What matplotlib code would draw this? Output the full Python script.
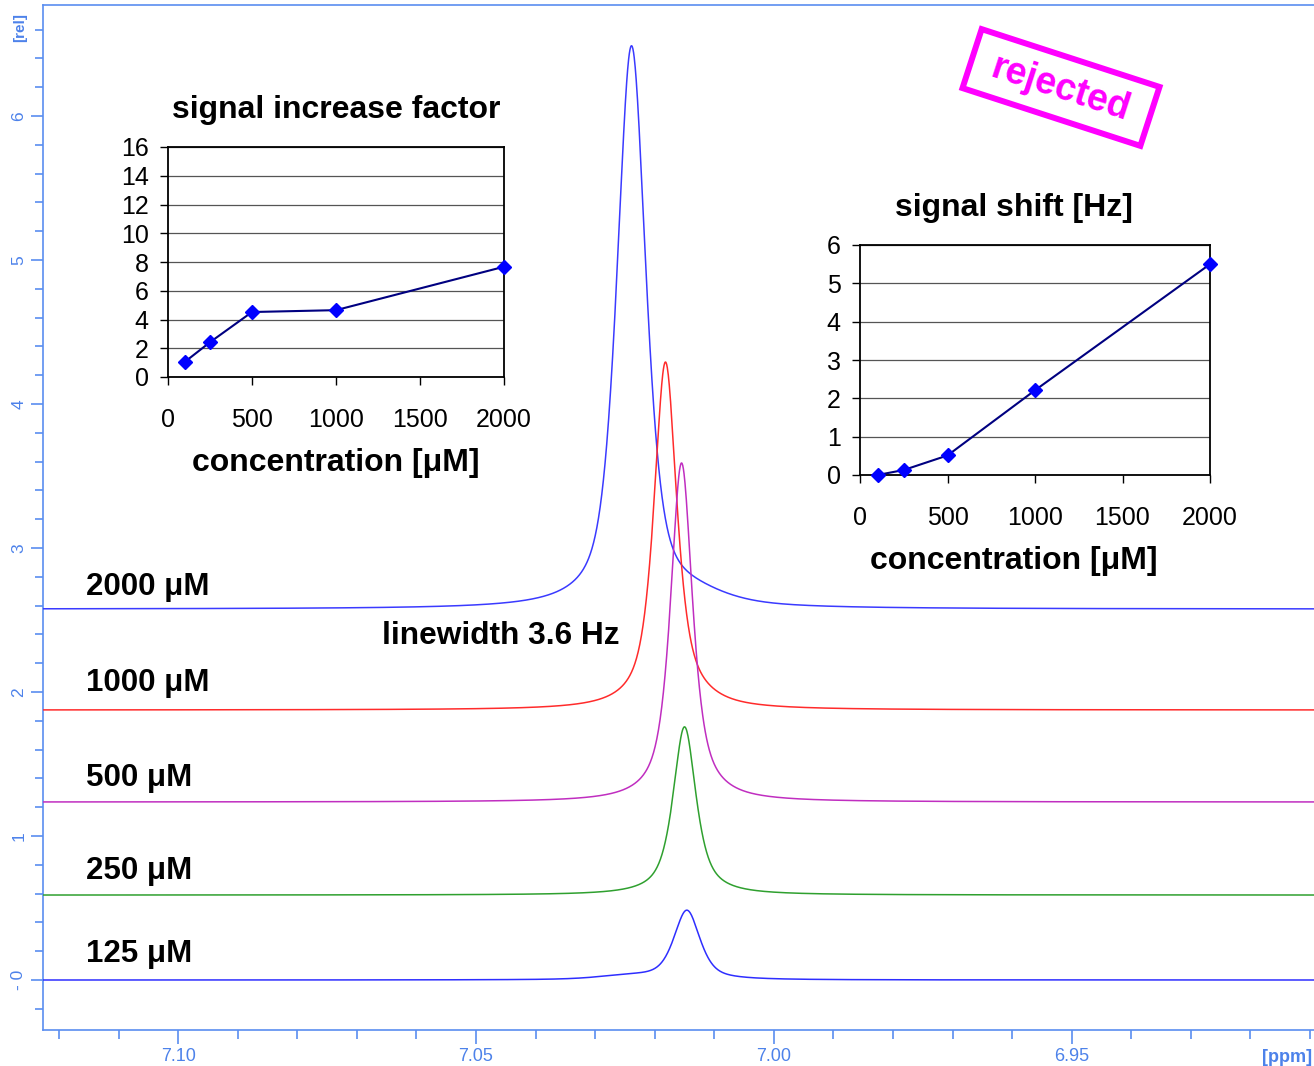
import numpy as np
import matplotlib
matplotlib.use("Agg")
import matplotlib.pyplot as plt
from matplotlib.patches import Polygon
from matplotlib.ticker import MultipleLocator, FixedLocator

plt.rcParams['font.family'] = ['Liberation Sans', 'DejaVu Sans']

# ---------------- data ----------------
spec_labels = ["2000 μM", "1000 μM", "500 μM", "250 μM", "125 μM"]
spec_colors = ["#3a3aff", "#ff2b2b", "#c02ec0", "#2fa02f", "#2e2eff"]
spec_offset = [2.576, 1.875, 1.236, 0.590, 0.0]
peak_ppm = [7.0239, 7.0182, 7.0155, 7.0150, 7.0146]
peak_height = [3.90, 2.41, 2.34, 1.16, 0.48]
peak_hwhm = [0.0029, 0.0023, 0.0022, 0.0023, 0.0026]
peak_eta = [0.6, 0.75, 0.75, 0.75, 0.6]
# minor shoulder components
shoulder_ppm = [7.0130, 7.0130, 7.0130, 7.0130, 7.0245]
shoulder_height = [0.06, 0.02, 0.02, 0.01, 0.025]
shoulder_hwhm = [0.0065, 0.004, 0.004, 0.004, 0.006]

conc = [100, 250, 500, 1000, 2000]
increase_factor = [1.05, 2.42, 4.52, 4.65, 7.67]
signal_shift = [0.0, 0.13, 0.51, 2.21, 5.50]

main_yticks = [0, 1, 2, 3, 4, 5, 6]
main_yticklabels = ["- 0", "1", "2", "3", "4", "5", "6"]
main_xticks = [7.10, 7.05, 7.00, 6.95]
main_xticklabels = ["7.10", "7.05", "7.00", "6.95"]

# ---------------- figure ----------------
W, H = 1314, 1066
fig = plt.figure(figsize=(W / 100, H / 100), dpi=100)

axis_blue = "#5a8ef0"
lbl_blue = "#4d82ea"

ax = fig.add_axes([43 / W, (H - 1030) / H, (W - 43) / W, 1025 / H])
ax.set_xlim(7.12269, 6.90933)
ax.set_ylim(-0.347, 6.771)

x = np.linspace(6.905, 7.125, 4000)


def pv(xx, c, h, w, eta):
    lor = 1.0 / (1.0 + ((xx - c) / w) ** 2)
    gau = np.exp(-np.log(2) * ((xx - c) / w) ** 2)
    return h * (eta * lor + (1 - eta) * gau)


for i in range(len(spec_labels)):
    y = (spec_offset[i]
         + pv(x, peak_ppm[i], peak_height[i], peak_hwhm[i], peak_eta[i])
         + pv(x, shoulder_ppm[i], shoulder_height[i], shoulder_hwhm[i], 0.5))
    ax.plot(x, y, color=spec_colors[i], lw=1.1, zorder=3)

# spectrum labels
label_x = 7.1155
label_y = [2.73, 2.063, 1.404, 0.758, 0.181]
for lab, ly in zip(spec_labels, label_y):
    ax.text(label_x, ly, lab, fontsize=22.5, fontweight='bold', ha='left',
            va='center', color='black', zorder=5)
ax.text(7.0657, 2.39, "linewidth 3.6 Hz", fontsize=22.8, fontweight='bold',
        ha='left', va='center', color='black', zorder=5)

# axis styling
for side in ['left', 'bottom', 'top']:
    ax.spines[side].set_color(axis_blue)
    ax.spines[side].set_linewidth(1.2)
ax.spines['right'].set_visible(False)
ax.yaxis.set_major_locator(FixedLocator(main_yticks))
ax.set_yticklabels(main_yticklabels, rotation=90, va='center',
                   fontsize=12.5, color=lbl_blue)
ax.yaxis.set_minor_locator(MultipleLocator(0.2))
ax.xaxis.set_major_locator(FixedLocator(main_xticks))
ax.set_xticklabels(main_xticklabels, fontsize=13, color=lbl_blue)
ax.xaxis.set_minor_locator(MultipleLocator(0.01))
ax.tick_params(axis='both', which='major', direction='out', color=axis_blue,
               width=1.2)
ax.tick_params(axis='y', which='major', length=9, pad=3)
ax.tick_params(axis='y', which='minor', length=5.5, color=axis_blue, width=1.2)
ax.tick_params(axis='x', which='major', length=10, pad=3)
ax.tick_params(axis='x', which='minor', length=6.5, color=axis_blue, width=1.2)
ax.tick_params(top=False, right=False)

fig.text(20 / W, 1 - 28 / H, "[rel]", rotation=90, ha='center', va='center',
         fontsize=11, color=lbl_blue, fontweight='bold')
fig.text(1262 / W, 1 - 1057 / H, "[ppm]", ha='left', va='center',
         fontsize=13, color=lbl_blue, fontweight='bold')


# ---------------- insets ----------------
def style_inset(a, ymax, ystep, title, center_x):
    a.set_xlim(0, 2000)
    a.set_ylim(0, ymax)
    a.set_xticks([0, 500, 1000, 1500, 2000])
    a.set_yticks(np.arange(0, ymax + ystep / 2, ystep))
    a.grid(axis='y', color='#555555', lw=0.9)
    a.set_axisbelow(True)
    for s in a.spines.values():
        s.set_color('black')
        s.set_linewidth(1.3)
    a.tick_params(axis='x', length=6, pad=16, labelsize=18, width=1)
    a.tick_params(axis='y', length=6, pad=8, labelsize=18, width=1)
    a.set_title(title, fontsize=23, fontweight='bold', pad=21, x=center_x)
    a.set_xlabel("concentration [μM]", fontsize=23, fontweight='bold',
                 labelpad=12)
    a.xaxis.label.set_x(center_x)
    a.set_facecolor('white')


ax1 = fig.add_axes([168 / W, (H - 377) / H, 336 / W, 230 / H])
ax1.plot(conc, increase_factor, color='#000080', lw=1.5, marker='D',
         markersize=7.5, markerfacecolor='#0000ff', markeredgecolor='#0000ff',
         clip_on=False, zorder=4)
style_inset(ax1, 16, 2, "signal increase factor", 0.5)

ax2 = fig.add_axes([860 / W, (H - 475) / H, 350 / W, 230 / H])
ax2.plot(conc, signal_shift, color='#000080', lw=1.5, marker='D',
         markersize=7.5, markerfacecolor='#0000ff', markeredgecolor='#0000ff',
         clip_on=False, zorder=4)
style_inset(ax2, 6, 1, "signal shift [Hz]", 0.44)

# ---------------- rejected stamp ----------------
ov = fig.add_axes([0, 0, 1, 1])
ov.set_xlim(0, W)
ov.set_ylim(H, 0)
ov.axis('off')
cx, cy, bw, bh, ang = 1061, 87.5, 187, 62, 18.0
c, s = np.cos(np.radians(ang)), np.sin(np.radians(ang))
corners = []
for dx, dy in [(-bw / 2, -bh / 2), (bw / 2, -bh / 2), (bw / 2, bh / 2), (-bw / 2, bh / 2)]:
    corners.append((cx + c * dx - s * dy, cy + s * dx + c * dy))
ov.add_patch(Polygon(corners, closed=True, fill=False, edgecolor='#ff00ff',
                     lw=4.3, joinstyle='miter'))
ov.text(cx - 1, cy + 2, "rejected", rotation=-ang, rotation_mode='anchor',
        ha='center', va='center', fontsize=27, fontweight='bold',
        color='#ff00ff')

fig.savefig("out.png", dpi=100)
